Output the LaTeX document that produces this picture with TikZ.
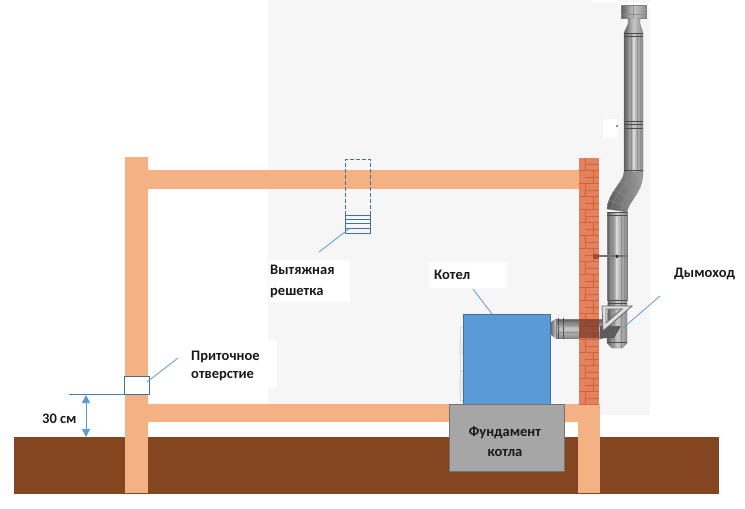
\documentclass[tikz,border=0pt]{standalone}
\usepackage{fontspec}
\setmainfont{Carlito}
\usetikzlibrary{arrows.meta}
\definecolor{beam}{HTML}{F4B183}
\definecolor{soil}{HTML}{844521}
\definecolor{brick}{HTML}{E2714A}
\definecolor{mortar}{HTML}{CB6039}
\definecolor{bluefill}{HTML}{5B9BD5}
\definecolor{blueedge}{HTML}{41719C}
\definecolor{lead}{HTML}{5B9BD5}
\definecolor{pdark}{HTML}{5C5C5C}
\definecolor{plight}{HTML}{C8C8C8}
\tikzset{
  rawbox/.style={inner sep=0pt,outer sep=0pt,anchor=north west},
  leader/.style={draw=lead,line width=.8pt},
  lbl/.style={font=\fontsize{14.5}{19}\selectfont\bfseries,inner sep=0pt,align=left,text=black!90},
  vpipe/.style={left color=pdark,right color=pdark!70,middle color=plight,draw=pdark!80,line width=.4pt},
  hpipe/.style={top color=pdark,bottom color=pdark!70,middle color=plight,draw=pdark!80,line width=.4pt},
  band/.style={draw=black!70,line width=.9pt},
  seam/.style={draw=black!45,line width=.5pt},
  gloss/.style={draw=white!85!black,line width=1.4pt},
}
\begin{document}
\begin{tikzpicture}[x=1pt,y=-1pt]
\useasboundingbox (0,0) rectangle (745,509);
\fill[white] (0,0) rectangle (745,509);
% pale backdrop and its white patches
\fill[black!3.5] (268,0) rectangle (650,415);
\fill[white] (592,0) rectangle (618,3);
\fill[white] (269,260) rectangle (350,302);
\fill[white] (430,262) rectangle (506,288);
\fill[white] (268,340) rectangle (277,388);
\fill[white] (603,119) rectangle (618,138);
\fill[black!45] (615.5,124.5) rectangle (617.5,127);
% ground
\fill[soil] (14,437) rectangle (719,494);
\fill[white] (148,422) rectangle (449,437);
% building
\fill[beam] (125,157) rectangle (148,493);
\fill[beam] (148,170) rectangle (580,189);
\fill[beam] (148,404) rectangle (450,422);
\fill[beam] (564,404) rectangle (600,422);
\fill[beam] (578,422) rectangle (600,493);
% flue through wall
\fill[left color=pdark,right color=plight] (550,323) -- (556,319) -- (556,338) -- (550,334) -- cycle;
\draw[hpipe] (556,319) rectangle (602,338);
\draw[band] (558,318) -- (558,339) (563,318) -- (563,339);
\draw[seam] (556,325) -- (602,325) (556,332) -- (602,332);
% chimney upper
\fill[white] (618,3) rectangle (650,8);
\draw[vpipe] (621,5) rectangle (646,18);
\draw[seam] (633,5) -- (633,18) (621,14) -- (646,14);
\draw[vpipe] (628,18) -- (640,18) -- (640,24) -- (643,33) -- (643,172) -- (624,172) -- (624,33) -- (628,24) -- cycle;
\draw[seam] (628,34) -- (628,172) (631,34) -- (631,172) (637,34) -- (637,172) (640,34) -- (640,172);
\draw[gloss] (634,37) -- (634,120) (634,129) -- (634,169);
\draw[band] (624,36) -- (643,36);
\draw[band] (624,33) -- (643,33);
\draw[band] (624,121) -- (643,121);
\draw[band,line width=1.3pt] (624,124.5) -- (643,124.5);
\draw[band] (624,128) -- (643,128);
\draw[band] (624,170) -- (643,170);
\draw[band] (624,173) -- (643,173);
% elbow
\draw[left color=pdark,right color=plight!80!black,draw=pdark!80,line width=.4pt]
  (624,172) .. controls (624,182) and (608,192) .. (607,209) -- (627,212) .. controls (628,202) and (643,192) .. (643,172) -- cycle;
\draw[seam] (621,182) -- (641,188) (614,190) -- (633,200) (609,200) -- (628,207)
  (630,173) .. controls (628,186) and (613,194) .. (612,210) (637,173) .. controls (636,190) and (622,197) .. (621,211);
% lower pipe
\draw[vpipe] (607,212) rectangle (627,300);
\draw[seam] (610,216) -- (610,300) (613,216) -- (613,300) (621,216) -- (621,300) (624,216) -- (624,300);
\draw[gloss] (617,217) -- (617,254) (617,258) -- (617,299);
\draw[band] (607,212) -- (627,212);
\draw[band] (607,215) -- (627,215);
% tee
\draw[vpipe] (608,300) -- (627,300) -- (627,343) -- (622,348) -- (612,348) -- (607,343) -- cycle;
\draw[seam] (614,300) -- (614,348) (621,300) -- (621,348);
\draw[band] (608,300) -- (627,300);
\draw[band] (608,303) -- (627,303);
\draw[band] (607,342) -- (627,342);
\fill[pdark] (600,326) -- (621,326) -- (614,338) -- (600,338) -- cycle;
% support triangle
\draw[draw=black!60,fill=black!12,line width=.8pt,even odd rule] (602,306) -- (632,306) -- (603,331) -- cycle (606,309) -- (622,309) -- (606,323) -- cycle;
% brick wall
\begin{scope}[opacity=.88]
\fill[brick] (579,158) rectangle (599,404);
\foreach \y in {170,183,...,404}{\draw[mortar,line width=.9pt] (579,\y) -- (599,\y);}
\foreach \y in {164,177,...,398}{\draw[mortar,line width=.6pt] (585,\y) -- (599,\y);}
\foreach \y in {158,184,...,392}{\draw[mortar,line width=.6pt] (585,\y) -- (585,\y+12);}
\foreach \y in {171,197,...,392}{\draw[mortar,line width=.6pt] (593,\y) -- (593,\y+12);}
\end{scope}
\fill[black!60!brick,opacity=.55] (579,319) rectangle (599,338);
% wall bracket
\draw[draw=black!55,line width=1.4pt] (596,256) -- (627,256);
\fill[mortar!80!black] (593,254) rectangle (599,259);
\fill[black!80] (616,254.5) rectangle (618,257.5);
% boiler side panels
\draw[black!15,line width=.7pt] (463,327) -- (460,327) -- (460,370) -- (463,370) (463,371) -- (460,371) -- (460,400) -- (463,400);
\fill[black!10] (459,342) rectangle (463,355) (459,378) rectangle (463,394);
% labelled objects
\node[rawbox,minimum width=87pt,minimum height=90pt,fill=bluefill,draw=blueedge,line width=.7pt] (boiler) at (463,314) {};
\node[rawbox,minimum width=115pt,minimum height=67pt,fill=black!35,draw=black!55,line width=.8pt] (found) at (449,404) {};
\node[lbl,align=center,anchor=center,font=\fontsize{14.5}{19.5}\selectfont\bfseries] (tfound) at (505,441.5) {Фундамент\\котла};
\node[rawbox,minimum width=25pt,minimum height=18pt,fill=white,draw=blueedge,line width=.8pt] (intake) at (124,376) {};
% extract grille
\node[rawbox,minimum width=25pt,minimum height=18pt,draw=blueedge,line width=.8pt] (grille) at (345.5,215) {};
\foreach \y in {219.5,223.5,228}{\draw[blueedge,line width=.7pt] (grille.west |- 0,\y) -- (grille.east |- 0,\y);}
\draw[blueedge,line width=.8pt,dash pattern=on 4pt off 2pt] (grille.north west) -- (345.5,159.5) -- (370.5,159.5) -- (grille.north east);
% labels
\node[lbl,anchor=west,font=\fontsize{14.5}{21}\selectfont\bfseries] (tgrille) at (270,281) {Вытяжная\\решетка};
\node[lbl,anchor=west] (tboiler) at (434,275) {Котел};
\node[lbl,anchor=west] (tflue) at (674,274) {Дымоход};
\node[lbl,anchor=west,font=\fontsize{14.5}{18}\selectfont\bfseries] (tintake) at (191,365.5) {Приточное\\отверстие};
\node[lbl,anchor=west] (tthirty) at (42,419) {30 см};
% leaders
\coordinate (g1) at (319,252); \coordinate (g2) at (350,228);
\coordinate (b1) at (473,289); \coordinate (b2) at (492,314);
\coordinate (f1) at (660,296); \coordinate (f2) at (623,328);
\coordinate (i1) at (178,358); \coordinate (i2) at (147,382);
\draw[leader] (g1) -- (g2);
\draw[leader] (b1) -- (b2);
\draw[leader] (f1) -- (f2);
\draw[leader] (i1) -- (i2);
% dimension
\coordinate (d0) at (69,394);
\coordinate (dt) at (86,395);
\coordinate (db) at (86,437);
\draw[blueedge!70!lead,line width=.8pt] (d0) -- (intake.south west);
\draw[lead,line width=.9pt,{Triangle[width=8pt,length=8pt]}-{Triangle[width=8pt,length=8pt]}] (dt) -- (db);
\end{tikzpicture}
\end{document}
